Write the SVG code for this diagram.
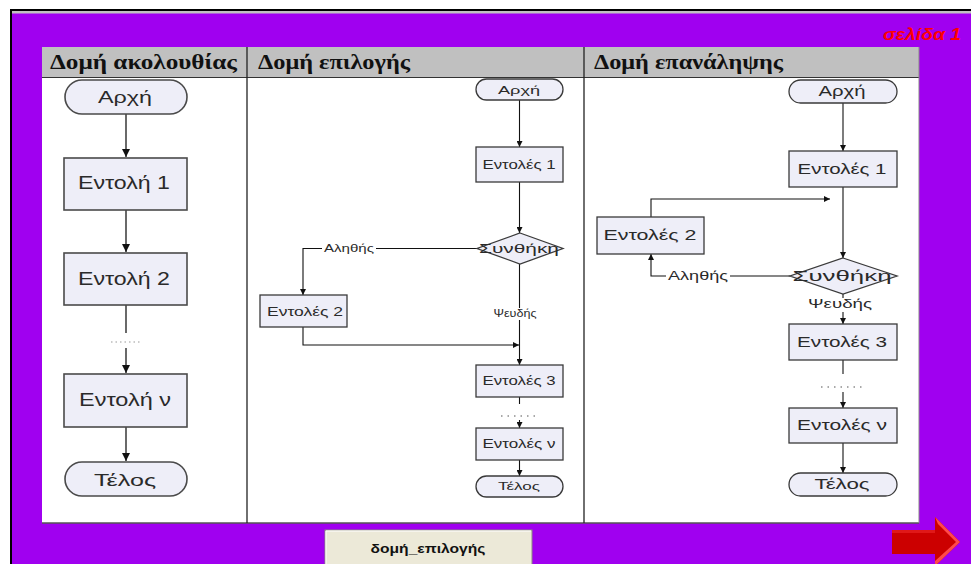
<svg xmlns="http://www.w3.org/2000/svg" width="971" height="564" viewBox="0 0 971 564">
<style>
.box{fill:#eeeef8;stroke:#3a3a3a;stroke-width:1.3}
.boxL{fill:#eeeef8;stroke:#4a4a4a;stroke-width:1.6}
.t{font-family:"Liberation Sans",Arial,sans-serif;fill:#2a2a2a;text-anchor:middle}
.hd{font-family:"Liberation Serif","Times New Roman",serif;font-weight:bold;font-size:20px;fill:#111}
.ln{fill:none;stroke:#111;stroke-width:1.1}
.lnL{fill:none;stroke:#444;stroke-width:1.6}
.dots{stroke:#555;stroke-width:1.2;stroke-dasharray:1.5 5}
.lbl{fill:#fff}
</style>
<defs>
<marker id="ah" viewBox="0 0 10 10" refX="10" refY="5" markerWidth="7" markerHeight="6" orient="auto" markerUnits="userSpaceOnUse"><path d="M0,0 L10,5 L0,10 z" fill="#111"/></marker>
<marker id="ahL" viewBox="0 0 10 10" refX="10" refY="5" markerWidth="8" markerHeight="9" orient="auto" markerUnits="userSpaceOnUse"><path d="M0,0 L10,5 L0,10 z" fill="#111"/></marker>
</defs>
<rect width="971" height="564" fill="#fff"/>
<g id="frame">
<rect x="10" y="9" width="961" height="555" fill="#000"/>
<rect x="12" y="11" width="959" height="553" fill="#c0c0c0"/>
<rect x="12" y="13.5" width="959" height="551" fill="#a000f0"/>
<text x="961" y="40" text-anchor="end" font-family="'Liberation Sans',Arial,sans-serif" font-weight="bold" font-style="italic" font-size="17" fill="#ff0000" textLength="78" lengthAdjust="spacingAndGlyphs">σελίδα 1</text>
</g>
<g id="panel">
<rect x="42" y="47" width="877" height="476" fill="#fff"/>
<rect x="42" y="47" width="877" height="30" fill="#c0c0c0"/>
<line x1="42" y1="77.5" x2="919" y2="77.5" stroke="#333" stroke-width="1"/>
<line x1="42" y1="523" x2="919" y2="523" stroke="#555" stroke-width="1.5"/>
<line x1="919" y1="47" x2="919" y2="523" stroke="#888" stroke-width="1"/>
<line x1="247" y1="47" x2="247" y2="523" stroke="#222" stroke-width="1.3"/>
<line x1="584" y1="47" x2="584" y2="523" stroke="#222" stroke-width="1.3"/>
<text class="hd" x="50" y="69" textLength="187" lengthAdjust="spacingAndGlyphs">Δομή ακολουθίας</text>
<text class="hd" x="258" y="69" textLength="152" lengthAdjust="spacingAndGlyphs">Δομή επιλογής</text>
<text class="hd" x="594" y="69" textLength="189" lengthAdjust="spacingAndGlyphs">Δομή επανάληψης</text>
</g>
<g id="connectors">
<path class="lnL" d="M126,114 V157" marker-end="url(#ahL)"/>
<path class="lnL" d="M126,210 V252" marker-end="url(#ahL)"/>
<path class="lnL" d="M126,305 V333"/>
<line class="dots" x1="111" y1="342" x2="140" y2="342" style="stroke:#999;stroke-dasharray:1.5 3"/>
<path class="lnL" d="M126,348 V373" marker-end="url(#ahL)"/>
<path class="lnL" d="M126,427 V461" marker-end="url(#ahL)"/>

<path class="ln" d="M519.5,100 V147" marker-end="url(#ah)"/>
<path class="ln" d="M519.5,182 V233" marker-end="url(#ah)"/>
<path class="ln" d="M477,248.5 H303 V295" marker-end="url(#ah)"/>
<path class="ln" d="M519.5,264 V365" marker-end="url(#ah)"/>
<path class="ln" d="M303,327 V345 H519" marker-end="url(#ah)"/>
<path class="ln" d="M519.5,397 V404"/>
<line class="dots" x1="501" y1="416" x2="538" y2="416"/>
<path class="ln" d="M519.5,420 V428" marker-end="url(#ah)"/>
<path class="ln" d="M519.5,460 V476" marker-end="url(#ah)"/>

<path class="ln" d="M843,103 V151" marker-end="url(#ah)"/>
<path class="ln" d="M843,187 V258" marker-end="url(#ah)"/>
<path class="ln" d="M790,276 H651 V254" marker-end="url(#ah)"/>
<path class="ln" d="M651,217 V199 H830" marker-end="url(#ah)"/>
<path class="ln" d="M843,294 V324" marker-end="url(#ah)"/>
<path class="ln" d="M843,360 V374"/>
<line class="dots" x1="821" y1="387" x2="866" y2="387"/>
<path class="ln" d="M843,392 V408" marker-end="url(#ah)"/>
<path class="ln" d="M843,443 V473" marker-end="url(#ah)"/>
</g>
<g id="labels">
<rect class="lbl" x="322" y="243" width="54" height="11"/>
<text class="t" x="349" y="252" font-size="11" textLength="50" lengthAdjust="spacingAndGlyphs">Αληθής</text>
<rect class="lbl" x="492" y="308" width="46" height="12"/>
<text class="t" x="515" y="317" font-size="11" textLength="43" lengthAdjust="spacingAndGlyphs">Ψευδής</text>
<rect class="lbl" x="666" y="270" width="64" height="13"/>
<text class="t" x="698" y="280" font-size="13" textLength="60" lengthAdjust="spacingAndGlyphs">Αληθής</text>
<rect class="lbl" x="806" y="298" width="68" height="14"/>
<text class="t" x="840" y="308" font-size="13" textLength="64" lengthAdjust="spacingAndGlyphs">Ψευδής</text>
</g>
<g id="seq-start"><rect class="boxL" x="65" y="80" width="122" height="34" rx="17"/><text class="t" x="125" y="103" font-size="17" textLength="54" lengthAdjust="spacingAndGlyphs">Αρχή</text></g>
<g id="seq-1"><rect class="boxL" x="64" y="158" width="123" height="52"/><text class="t" x="124" y="189" font-size="18" textLength="92" lengthAdjust="spacingAndGlyphs">Εντολή 1</text></g>
<g id="seq-2"><rect class="boxL" x="64" y="253" width="123" height="52"/><text class="t" x="124" y="285" font-size="18" textLength="92" lengthAdjust="spacingAndGlyphs">Εντολή 2</text></g>
<g id="seq-n"><rect class="boxL" x="64" y="374" width="123" height="53"/><text class="t" x="125" y="406" font-size="18" textLength="92" lengthAdjust="spacingAndGlyphs">Εντολή ν</text></g>
<g id="seq-end"><rect class="boxL" x="65" y="462" width="122" height="34" rx="17"/><text class="t" x="125" y="486" font-size="17" textLength="62" lengthAdjust="spacingAndGlyphs">Τέλος</text></g>

<g id="sel-start"><rect class="box" x="476" y="79" width="87" height="21" rx="10.5"/><text class="t" x="519" y="94" font-size="11.5" textLength="42" lengthAdjust="spacingAndGlyphs">Αρχή</text></g>
<g id="sel-1"><rect class="box" x="476" y="147" width="87" height="35"/><text class="t" x="519" y="169" font-size="12" textLength="73" lengthAdjust="spacingAndGlyphs">Εντολές 1</text></g>
<g id="sel-cond"><polygon class="box" points="520,233 563,248.5 520,264 477,248.5"/><text class="t" x="519" y="253" font-size="12" textLength="80" lengthAdjust="spacingAndGlyphs">Συνθήκη</text></g>
<g id="sel-2"><rect class="box" x="260" y="295" width="87" height="32"/><text class="t" x="305" y="316" font-size="12" textLength="76" lengthAdjust="spacingAndGlyphs">Εντολές 2</text></g>
<g id="sel-3"><rect class="box" x="476" y="365" width="87" height="32"/><text class="t" x="519" y="385" font-size="12" textLength="73" lengthAdjust="spacingAndGlyphs">Εντολές 3</text></g>
<g id="sel-n"><rect class="box" x="476" y="428" width="87" height="32"/><text class="t" x="519" y="448" font-size="12" textLength="73" lengthAdjust="spacingAndGlyphs">Εντολές ν</text></g>
<g id="sel-end"><rect class="box" x="476" y="476" width="87" height="21" rx="10.5"/><text class="t" x="519" y="490" font-size="11.5" textLength="42" lengthAdjust="spacingAndGlyphs">Τέλος</text></g>

<g id="rep-start"><rect class="box" x="789" y="80" width="108" height="23" rx="11.5"/><text class="t" x="842" y="96" font-size="14" textLength="47" lengthAdjust="spacingAndGlyphs">Αρχή</text></g>
<g id="rep-1"><rect class="box" x="789" y="151" width="108" height="36"/><text class="t" x="842" y="174" font-size="14" textLength="89" lengthAdjust="spacingAndGlyphs">Εντολές 1</text></g>
<g id="rep-2"><rect class="box" x="597" y="217" width="107" height="37"/><text class="t" x="650" y="240" font-size="14" textLength="93" lengthAdjust="spacingAndGlyphs">Εντολές 2</text></g>
<g id="rep-cond"><polygon class="box" points="843,258 897,276 843,294 790,276"/><text class="t" x="842" y="281" font-size="14" textLength="99" lengthAdjust="spacingAndGlyphs">Συνθήκη</text></g>
<g id="rep-3"><rect class="box" x="789" y="324" width="108" height="36"/><text class="t" x="842" y="347" font-size="14" textLength="90" lengthAdjust="spacingAndGlyphs">Εντολές 3</text></g>
<g id="rep-n"><rect class="box" x="789" y="408" width="108" height="35"/><text class="t" x="842" y="430" font-size="14" textLength="90" lengthAdjust="spacingAndGlyphs">Εντολές ν</text></g>
<g id="rep-end"><rect class="box" x="789" y="473" width="108" height="23" rx="11.5"/><text class="t" x="842" y="489" font-size="14" textLength="55" lengthAdjust="spacingAndGlyphs">Τέλος</text></g>

<g id="button">
<rect x="325" y="530" width="207" height="40" fill="#ece9d8" stroke="#8a8a80" stroke-width="1"/>
<line x1="326" y1="531" x2="531" y2="531" stroke="#fff"/>
<line x1="326" y1="531" x2="326" y2="564" stroke="#fff"/>
<text x="428" y="553" text-anchor="middle" font-family="'Liberation Sans',Arial,sans-serif" font-weight="bold" font-size="13" fill="#111" textLength="115" lengthAdjust="spacingAndGlyphs">δομή_επιλογής</text>
</g>
<g id="next-arrow">
<rect x="892" y="530" width="44" height="24" fill="#cc0000"/>
<rect x="892" y="530" width="44" height="3" fill="#e01818"/>
<polygon points="935,517 960,542 935,566" fill="#cc0000"/>
<polygon points="935,517 960,542 956,542 938,524" fill="#ff4a4a"/>
<polygon points="960,542 935,566 935,561 956,542" fill="#ff4a4a"/>
</g>
</svg>
